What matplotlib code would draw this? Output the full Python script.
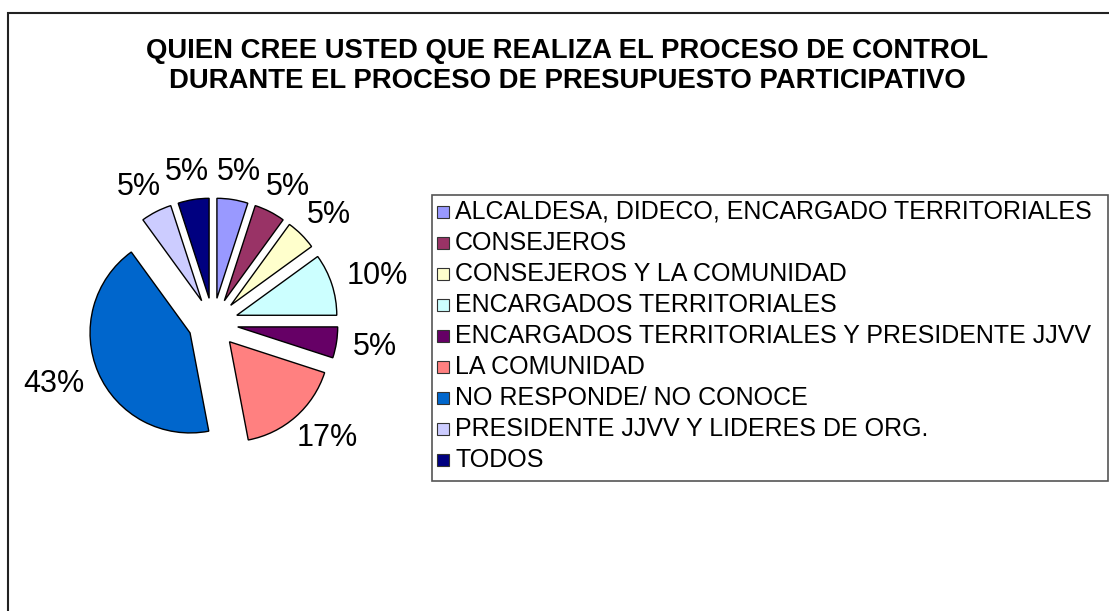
import numpy as np
import matplotlib
matplotlib.use("Agg")
import matplotlib.pyplot as plt
from matplotlib.patches import Rectangle

plt.rcParams['font.family'] = ['Liberation Sans', 'DejaVu Sans']

# data
categorias = ["ALCALDESA, DIDECO, ENCARGADO TERRITORIALES",
              "CONSEJEROS",
              "CONSEJEROS Y LA COMUNIDAD",
              "ENCARGADOS TERRITORIALES",
              "ENCARGADOS TERRITORIALES Y PRESIDENTE JJVV",
              "LA COMUNIDAD",
              "NO RESPONDE/ NO CONOCE",
              "PRESIDENTE JJVV Y LIDERES DE ORG.",
              "TODOS"]
porcentajes = [5, 5, 5, 10, 5, 17, 43, 5, 5]
colores = ["#9999FF", "#993366", "#FFFFCC", "#CCFFFF", "#660066",
           "#FF8080", "#0066CC", "#CCCCFF", "#000080"]
titulo = "QUIEN CREE USTED QUE REALIZA EL PROCESO DE CONTROL\nDURANTE EL PROCESO DE PRESUPUESTO PARTICIPATIVO"

W, H = 1109, 611
fig = plt.figure(figsize=(W / 100, H / 100), dpi=100)

# outer chart frame (runs off the right and bottom edges)
fig.patches.append(Rectangle((8 / W, -0.05), 1.1, (H - 13) / H + 0.05,
                             transform=fig.transFigure, fill=False,
                             edgecolor="#222222", linewidth=1.5))

fig.text(567 / W, 1 - 66 / H, titulo, ha="center", va="center",
         fontsize=19.8, fontweight="bold", linespacing=1.15)

# pie: centre about (213, 323) px, 1 data unit = 100 px
cx, cy = 213, 323
ax = fig.add_axes([(cx - 200) / W, (H - cy - 200) / H, 400 / W, 400 / H])

wedges, texts, autotexts = ax.pie(
    porcentajes, colors=colores, startangle=90, counterclock=False,
    explode=[0.25] * len(porcentajes), radius=1.0,
    autopct="%.0f%%", pctdistance=1.35,
    wedgeprops=dict(edgecolor="black", linewidth=1),
    textprops=dict(fontsize=22, color="black"))
ax.set_xlim(-2, 2)
ax.set_ylim(-2, 2)
ax.set_aspect("equal")
ax.axis("off")

# labels outside each slice, nearest edge at a fixed gap (like Excel)
for w, t in zip(wedges, autotexts):
    ang = np.deg2rad((w.theta1 + w.theta2) / 2)
    dx, dy = np.cos(ang), np.sin(ang)
    hw = 0.22 if len(t.get_text()) == 2 else 0.31
    t.set_position((1.42 * dx + hw * dx, 1.42 * dy + 0.11 * dy))
    t.set_ha("center")
    t.set_va("center")
    t.set_color("black")

# legend
lax = fig.add_axes([0, 0, 1, 1])
lax.set_xlim(0, W)
lax.set_ylim(H, 0)
lax.axis("off")
lax.add_patch(Rectangle((432, 195), 676, 286, fill=False,
                        edgecolor="#555555", linewidth=1.2))
for i, (cat, col) in enumerate(zip(categorias, colores)):
    y = 212 + i * 31
    lax.add_patch(Rectangle((437, y - 6), 12, 12, facecolor=col,
                            edgecolor="#333333", linewidth=0.8))
    lax.text(455, y, cat, va="center", ha="left", fontsize=18)

fig.savefig("out.png", dpi=100)
